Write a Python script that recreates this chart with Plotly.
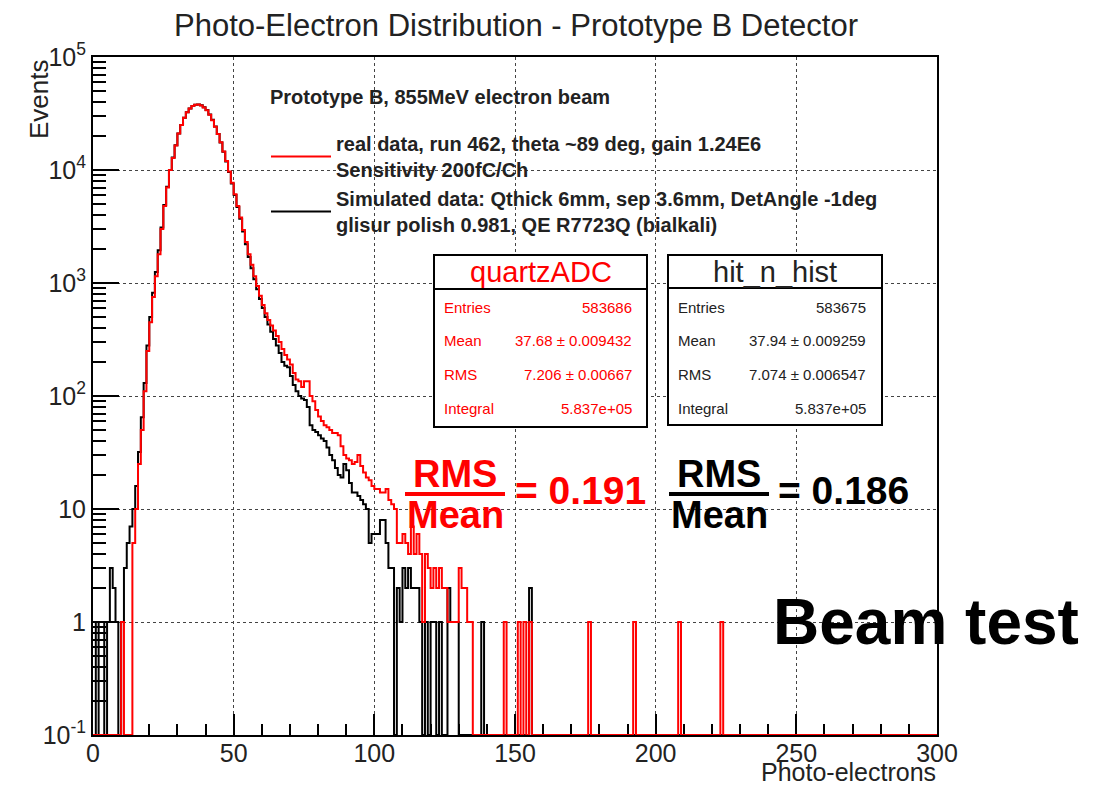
import numpy as np
import plotly.graph_objects as go

# ---------------- data ----------------
N_BINS = 300            # 1 photo-electron per bin, 0..300
LOG_FLOOR = 0.1         # ROOT draws empty bins at the bottom of a log axis

# real data (quartzADC), bins 0..135
red_body = [0, 0, 0, 0, 0, 0, 0, 0, 0, 0,
            1, 0, 0, 0, 5, 10, 25, 50, 110, 250,
            450, 750, 1150, 1800, 3000, 4800, 7000, 10000, 12800, 16500,
            21000, 25000, 29000, 32500, 35000, 36800, 37800, 38000, 37300, 35800,
            33800, 30800, 27600, 24200, 20800, 17600, 14600, 12000, 9700, 7700,
            6100, 4800, 3800, 2950, 2300, 1800, 1450, 1150, 940, 770,
            640, 540, 470, 420, 380, 340, 300, 260, 230, 210,
            190, 160, 140, 135, 120, 135, 135, 100, 90, 75,
            66, 60, 55, 53, 50, 47, 47, 45, 36, 30,
            28, 27, 25, 26, 30, 24, 21, 19, 18, 16,
            15, 15, 14, 14, 15, 12, 11, 10, 5, 5,
            6, 5, 4, 7, 4, 6, 4, 1, 4, 3,
            2, 3, 2, 3, 2, 2, 1, 1, 1, 1,
            3, 2, 2, 1, 1, 0]
red_tail_bins = [146, 151, 153, 155, 176, 192, 208, 223]
red_tail_counts = [1, 1, 1, 1, 1, 1, 1, 1]

# simulated data (hit_n_hist), bins 0..130
black_body = [1, 0, 1, 1, 0, 1, 3, 2, 1, 0,
              1, 3, 5, 7, 10, 16, 32, 65, 130, 280,
              500, 820, 1250, 1950, 3100, 4900, 7100, 10000, 12900, 16600,
              21000, 25000, 29000, 32500, 35000, 36800, 37800, 38000, 37400, 36000,
              34000, 31000, 27800, 24300, 20800, 17500, 14500, 11900, 9600, 7600,
              6000, 4700, 3700, 2850, 2200, 1700, 1350, 1080, 880, 720,
              600, 500, 430, 370, 320, 280, 240, 200, 185, 180,
              150, 125, 110, 100, 95, 92, 80, 55, 50, 48,
              45, 42, 40, 35, 30, 27, 23, 20, 19, 25,
              22, 17, 14, 14, 13, 12, 11, 10, 5, 6,
              6, 6, 8, 8, 5, 3, 3, 0, 2, 1,
              3, 2, 3, 2, 2, 2, 1, 0, 1, 0,
              1, 1, 0, 1, 0, 0, 2, 1, 1, 1,
              0]
black_tail_bins = [138, 155]
black_tail_counts = [1, 2]

x_ticks = [0, 50, 100, 150, 200, 250, 300]
y_ticks = [0.1, 1, 10, 100, 1000, 10000, 100000]
y_ticktext = ["10<sup>-1</sup>", "1", "10", "10<sup>2</sup>", "10<sup>3</sup>",
              "10<sup>4</sup>", "10<sup>5</sup>"]

stats_red = [("Entries", "583686"), ("Mean", "37.68 ± 0.009432"),
             ("RMS", "7.206 ± 0.00667"), ("Integral", "5.837e+05")]
stats_black = [("Entries", "583675"), ("Mean", "37.94 ± 0.009259"),
               ("RMS", "7.074 ± 0.006547"), ("Integral", "5.837e+05")]
ratio_red = "0.191"
ratio_black = "0.186"

RED = "#ff0000"
BLACK = "#000000"
FONT = "Liberation Sans, Arial, Helvetica, sans-serif"


def full_hist(body, tail_bins, tail_counts):
    h = np.zeros(N_BINS)
    h[:len(body)] = body
    for b, c in zip(tail_bins, tail_counts):
        h[b] = c
    return h


def step_xy(h):
    edges = np.arange(N_BINS + 1)
    y = np.where(h > 0, h, LOG_FLOOR)
    y = np.append(y, y[-1])
    return edges, y


red_h = full_hist(red_body, red_tail_bins, red_tail_counts)
black_h = full_hist(black_body, black_tail_bins, black_tail_counts)

# ---------------- layout geometry (pixels of the 1098x786 page) ----------------
W, H = 1098, 786
L, R, T, B = 93, 161, 57, 51
PW, PH = W - L - R, H - T - B


def px(x):
    return (x - L) / PW


def py(y):
    return (H - B - y) / PH


fig = go.Figure()

bx, by = step_xy(black_h)
fig.add_trace(go.Scatter(
    x=bx, y=by, mode="lines", line=dict(color=BLACK, width=2, shape="hv"),
    name="<b>Simulated data: Qthick 6mm, sep 3.6mm, DetAngle -1deg<br>glisur polish 0.981, QE R7723Q (bialkali)</b>",
    legendrank=2))
rx, ry = step_xy(red_h)
fig.add_trace(go.Scatter(
    x=rx, y=ry, mode="lines", line=dict(color=RED, width=2, shape="hv"),
    name="<b>real data, run 462, theta ~89 deg, gain 1.24E6<br>Sensitivity 200fC/Ch</b>",
    legendrank=1))

minor_y = [m * 10.0 ** d for d in range(-1, 5) for m in range(2, 10)]

fig.update_xaxes(
    range=[0, 300], tickvals=x_ticks, ticks="inside", ticklen=21, tickwidth=1.5,
    tickcolor=BLACK, showline=True, mirror=True, linewidth=2, linecolor=BLACK,
    showgrid=True, gridcolor="#444", griddash="dot", gridwidth=1.2,
    zeroline=False, layer="below traces", ticklabelstandoff=-5,
    tickfont=dict(family=FONT, size=25, color="#222"),
    minor=dict(ticks="inside", ticklen=11, tickwidth=1.5, tickcolor=BLACK,
               dtick=10, tick0=0, showgrid=False))
fig.update_yaxes(
    type="log", range=[-1, 5], tickvals=y_ticks, ticktext=y_ticktext,
    ticks="inside", ticklen=26, tickwidth=1.5, tickcolor=BLACK,
    showline=True, mirror=True, linewidth=2, linecolor=BLACK,
    showgrid=True, gridcolor="#444", griddash="dot", gridwidth=1.2,
    zeroline=False, layer="below traces",
    tickfont=dict(family=FONT, size=25, color="#222"),
    minor=dict(ticks="inside", ticklen=13, tickwidth=1.5, tickcolor=BLACK,
               tickvals=minor_y, showgrid=False))

ann = []
shapes = []

# title and axis titles
ann.append(dict(text="Photo-Electron Distribution - Prototype B Detector",
                xref="paper", yref="paper", x=px(516), y=py(25),
                xanchor="center", yanchor="middle", showarrow=False,
                font=dict(family=FONT, size=31, color="#222")))
ann.append(dict(text="Events", xref="paper", yref="paper", x=px(39), y=py(57),
                xanchor="center", yanchor="top", textangle=-90, showarrow=False,
                font=dict(family=FONT, size=26, color="#222")))
ann.append(dict(text="Photo-electrons", xref="paper", yref="paper", x=px(938), y=py(772),
                xanchor="right", yanchor="middle", showarrow=False,
                font=dict(family=FONT, size=25, color="#222")))

# legend header
ann.append(dict(text="<b>Prototype B, 855MeV electron beam</b>", xref="paper", yref="paper",
                x=px(268), y=py(97), xanchor="left", yanchor="middle", showarrow=False,
                font=dict(family=FONT, size=20, color="#222")))


def stat_box(x0, x1, y0, ysep, y1, title, rows, color, lx, rx_):
    shapes.append(dict(type="rect", xref="paper", yref="paper",
                       x0=px(x0), x1=px(x1), y0=py(y1), y1=py(y0),
                       line=dict(color=BLACK, width=2), fillcolor="white", layer="above"))
    shapes.append(dict(type="line", xref="paper", yref="paper",
                       x0=px(x0), x1=px(x1), y0=py(ysep), y1=py(ysep),
                       line=dict(color=BLACK, width=2), layer="above"))
    ann.append(dict(text=title, xref="paper", yref="paper", x=px((x0 + x1) / 2),
                    y=py((y0 + ysep) / 2), xanchor="center", yanchor="middle",
                    showarrow=False, font=dict(family=FONT, size=29, color=color)))
    for i, (lab, val) in enumerate(rows):
        yy = py(307 + i * 33.7)
        ann.append(dict(text=lab, xref="paper", yref="paper", x=px(lx), y=yy,
                        xanchor="left", yanchor="middle", showarrow=False,
                        font=dict(family=FONT, size=15, color=color)))
        ann.append(dict(text=val, xref="paper", yref="paper", x=px(rx_), y=yy,
                        xanchor="right", yanchor="middle", showarrow=False,
                        font=dict(family=FONT, size=15, color=color)))


stat_box(434, 647, 255, 289, 427, "quartzADC", stats_red, RED, 442, 634)
stat_box(668, 882, 255, 288, 425, "hit_n_hist", stats_black, "#222", 676, 868)


def ratio(cx, eqx, value, color):
    ann.append(dict(text="<b>RMS</b>", xref="paper", yref="paper", x=px(cx), y=py(474),
                    xanchor="center", yanchor="middle", showarrow=False,
                    font=dict(family=FONT, size=38, color=color)))
    ann.append(dict(text="<b>Mean</b>", xref="paper", yref="paper", x=px(cx), y=py(515),
                    xanchor="center", yanchor="middle", showarrow=False,
                    font=dict(family=FONT, size=38, color=color)))
    shapes.append(dict(type="line", xref="paper", yref="paper",
                       x0=px(cx - 50), x1=px(cx + 50), y0=py(494), y1=py(494),
                       line=dict(color=color, width=4), layer="above"))
    ann.append(dict(text="<b>= " + value + "</b>", xref="paper", yref="paper",
                    x=px(eqx), y=py(490), xanchor="left", yanchor="middle",
                    showarrow=False, font=dict(family=FONT, size=39, color=color)))


ratio(455, 513, ratio_red, RED)
ratio(719, 776, ratio_black, BLACK)

ann.append(dict(text="<b>Beam test</b>", xref="paper", yref="paper", x=px(926), y=py(622),
                xanchor="center", yanchor="middle", showarrow=False,
                font=dict(family=FONT, size=64, color=BLACK)))

fig.update_layout(
    width=W, height=H, margin=dict(l=L, r=R, t=T, b=B, autoexpand=False),
    paper_bgcolor="white", plot_bgcolor="white",
    annotations=ann, shapes=shapes,
    showlegend=True,
    legend=dict(x=px(266), y=py(124), xanchor="left", yanchor="top",
                bgcolor="rgba(0,0,0,0)", borderwidth=0,
                font=dict(family=FONT, size=20, color="#222"),
                itemwidth=60, tracegroupgap=0),
)

fig.write_html("out.html")
